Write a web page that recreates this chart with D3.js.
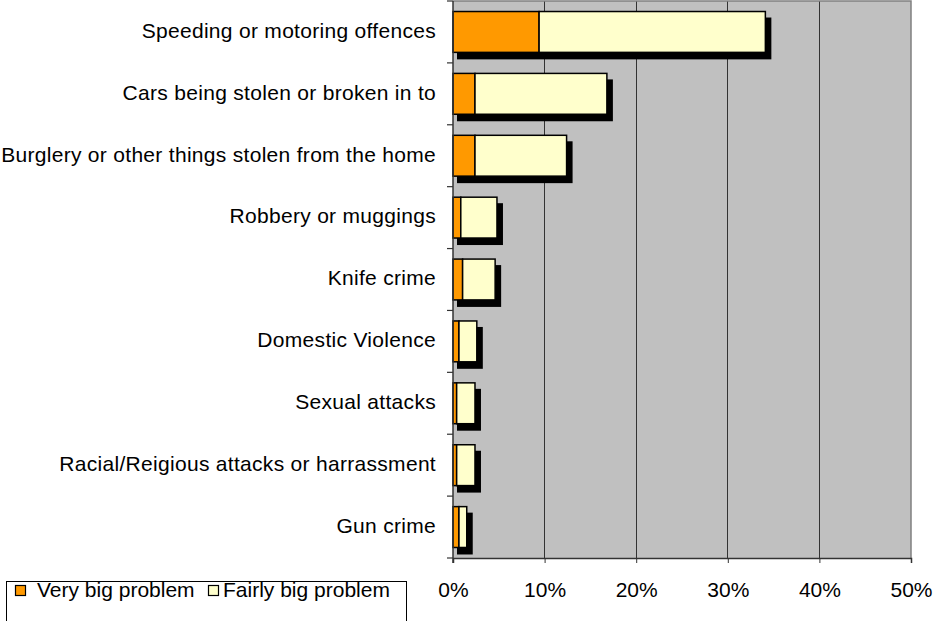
<!DOCTYPE html>
<html><head><meta charset="utf-8">
<script src="https://cdn.jsdelivr.net/npm/d3@7"></script>
<style>body{margin:0;background:#fff}svg{display:block}</style>
</head><body>
<svg id="c" width="933" height="621"></svg>
<script>
const categories = ["Speeding or motoring offences","Cars being stolen or broken in to","Burglery or other things stolen from the home","Robbery or muggings","Knife crime","Domestic Violence","Sexual attacks","Racial/Reigious attacks or harrassment","Gun crime"];
const veryBig = [9.4, 2.4, 2.4, 0.85, 1.05, 0.65, 0.4, 0.4, 0.65];
const fairlyBig = [24.7, 14.4, 10.0, 3.95, 3.55, 1.95, 2.0, 2.0, 0.85];
const seriesNames = ["Very big problem","Fairly big problem"];
const seriesColors = ["#FF9900","#FFFFCC"];
const xTicks = [0,10,20,30,40,50];

const svg = d3.select("#c");
const L = 453, R = 911, T = 1, B = 558;
const x = d3.scaleLinear().domain([0,50]).range([L,R]);
const y = d3.scaleBand().domain(categories).range([T,B]).paddingInner(0.34).paddingOuter(0.17);
const font = "'Liberation Sans', Arial, sans-serif";
const fs = 21;

svg.append("rect").attr("x",L).attr("y",T).attr("width",R-L).attr("height",B-T).attr("fill","#C0C0C0");
svg.append("g").selectAll("line").data(xTicks.slice(1,-1)).join("line")
  .attr("x1",d=>x(d)).attr("x2",d=>x(d)).attr("y1",T).attr("y2",B)
  .attr("stroke","#333").attr("stroke-width",1).attr("shape-rendering","crispEdges");
svg.append("path").attr("d",`M${L},${T}H${R}V${B}`).attr("fill","none").attr("stroke","#808080").attr("stroke-width",1.5);

const stackData = categories.map((c,i)=>({c, v:veryBig[i], f:fairlyBig[i]}));
const g = svg.append("g");
g.selectAll("rect.sh").data(stackData).join("rect").attr("class","sh")
  .attr("x",x(0)+4).attr("y",d=>y(d.c)+6)
  .attr("width",d=>x(d.v+d.f)-x(0)+2).attr("height",y.bandwidth()+1)
  .attr("fill","#000");
g.selectAll("rect.v").data(stackData).join("rect").attr("class","v")
  .attr("x",x(0)).attr("y",d=>y(d.c))
  .attr("width",d=>x(d.v)-x(0)).attr("height",y.bandwidth())
  .attr("fill",seriesColors[0]).attr("stroke","#000").attr("stroke-width",1.5);
g.selectAll("rect.f").data(stackData).join("rect").attr("class","f")
  .attr("x",d=>x(d.v)).attr("y",d=>y(d.c))
  .attr("width",d=>x(d.v+d.f)-x(d.v)).attr("height",y.bandwidth())
  .attr("fill",seriesColors[1]).attr("stroke","#000").attr("stroke-width",1.5);

const xa = svg.append("g").attr("transform",`translate(0,${B})`)
  .call(d3.axisBottom(x).tickValues(xTicks).tickFormat(d=>d+"%").tickSize(5));
xa.select(".domain").attr("stroke","#333").attr("stroke-width",1.5);
xa.selectAll(".tick line").attr("stroke","#333");
xa.selectAll("text").attr("y",24).attr("dy","0.71em")
  .attr("font-family",font).attr("font-size",fs).attr("fill","#000");

const yEdges = d3.range(categories.length+1).map(i=>T + i*(B-T)/categories.length);
svg.append("line").attr("x1",L).attr("x2",L).attr("y1",T).attr("y2",B+5).attr("stroke","#333").attr("stroke-width",1.5);
svg.append("g").selectAll("line").data(yEdges).join("line")
  .attr("x1",L-6).attr("x2",L).attr("y1",d=>d).attr("y2",d=>d).attr("stroke","#333").attr("stroke-width",1.2);
svg.append("g").selectAll("text").data(categories).join("text")
  .attr("x",436).attr("y",d=>y(d)+y.bandwidth()/2).attr("dy","0.28em")
  .attr("text-anchor","end").attr("font-family",font).attr("font-size",fs)
  .attr("letter-spacing","0.3px").attr("fill","#000")
  .text(d=>d);

const lg = svg.append("g");
lg.append("rect").attr("x",6.5).attr("y",581.5).attr("width",400).attr("height",50).attr("fill","#fff").attr("stroke","#000");
const items = [{n:seriesNames[0],c:seriesColors[0],sx:15,tx:37},{n:seriesNames[1],c:seriesColors[1],sx:208,tx:223}];
lg.selectAll("rect.sw").data(items).join("rect").attr("class","sw")
  .attr("x",d=>d.sx+0.5).attr("y",585.5).attr("width",10).attr("height",10)
  .attr("fill",d=>d.c).attr("stroke","#000").attr("stroke-width",1.2);
lg.selectAll("text").data(items).join("text")
  .attr("x",d=>d.tx).attr("y",597)
  .attr("font-family",font).attr("font-size",fs).attr("fill","#000").text(d=>d.n);
</script>
</body></html>
